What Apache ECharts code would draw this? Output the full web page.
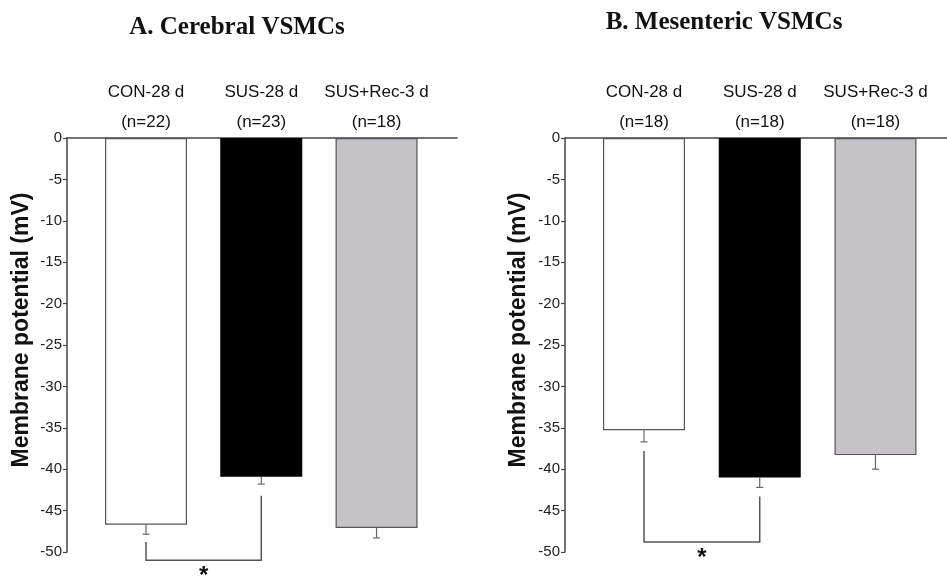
<!DOCTYPE html>
<html>
<head>
<meta charset="utf-8">
<script src="https://cdn.jsdelivr.net/npm/echarts@6/dist/echarts.min.js"></script>
<style>
html,body{margin:0;padding:0;background:#fff;}
#chart{width:947px;height:582px;}
</style>
</head>
<body>
<div id="chart"></div>
<script>
// ---- data ----
var categories = ['CON-28 d', 'SUS-28 d', 'SUS+Rec-3 d'];
var panelTitles = ['A. Cerebral VSMCs', 'B. Mesenteric VSMCs'];
var yAxisTitle = 'Membrane potential (mV)';
var nCerebral = [22, 23, 18];
var nMesenteric = [18, 18, 18];
var cerebralMean = [-46.7, -40.9, -47.1];
var cerebralSEM = [1.15, 0.9, 1.2];
var mesentericMean = [-35.3, -41.0, -38.3];
var mesentericSEM = [1.4, 1.2, 1.7];
// significance bracket: [group1, group1 start, group2, group2 start, bracket level]
var cerebralBracket = [1, -48.8, 2, -43.2, -51.0];
var mesentericBracket = [1, -37.8, 2, -43.3, -48.8];
var yTicks = {min: -50, max: 0, interval: 5};

var barColors = ['#ffffff', '#000000', '#c6c3c8'];
var barBorders = ['#555555', '#000000', '#555555'];

var chart = echarts.init(document.getElementById('chart'), null, {renderer: 'canvas'});

function barData(means) {
  return means.map(function (v, i) {
    return {
      value: [i + 1, v],
      itemStyle: {color: barColors[i], borderColor: barBorders[i], borderWidth: 1.2}
    };
  });
}
function errData(means, sems) {
  return means.map(function (v, i) { return [i + 1, v, sems[i]]; });
}
function renderErr(params, api) {
  var x = api.value(0), m = api.value(1), s = api.value(2);
  var p0 = api.coord([x, m]);
  var p1 = api.coord([x, m - s]);
  var st = {stroke: '#666', lineWidth: 1.2};
  return {
    type: 'group',
    children: [
      {type: 'line', shape: {x1: p0[0], y1: p0[1], x2: p1[0], y2: p1[1]}, style: st},
      {type: 'line', shape: {x1: p1[0] - 3.5, y1: p1[1], x2: p1[0] + 3.5, y2: p1[1]}, style: st}
    ]
  };
}
function renderBracket(params, api) {
  var x1 = api.value(0), y1 = api.value(1), x2 = api.value(2), y2 = api.value(3), lv = api.value(4);
  var a = api.coord([x1, y1]), b = api.coord([x1, lv]), c = api.coord([x2, lv]), d = api.coord([x2, y2]);
  var star = api.coord([(x1 + x2) / 2, lv]);
  return {
    type: 'group',
    children: [
      {type: 'polyline', shape: {points: [a, b, c, d]}, style: {stroke: '#555', lineWidth: 1.5, fill: null}},
      {type: 'text', x: star[0], y: star[1] + 4, style: {text: '*', fill: '#111', font: 'bold 24px "Liberation Sans", Arial, sans-serif', align: 'center', verticalAlign: 'top'}}
    ]
  };
}

var grids = [
  {left: 67, top: 138, width: 390, height: 414},
  {left: 565, top: 138, width: 382, height: 414}
];
var xRanges = [[0.3145, 3.698], [0.3175, 3.618]];
var nLists = [nCerebral, nMesenteric];
var titleFont = {fontFamily: '"Liberation Serif", "Times New Roman", serif', fontWeight: 'bold', fontSize: 25, color: '#111'};

var option = {
  animation: false,
  backgroundColor: '#ffffff',
  title: [
    {text: panelTitles[0], left: 232, top: 10, textAlign: 'center', textStyle: titleFont},
    {text: panelTitles[1], left: 719, top: 5, textAlign: 'center', textStyle: titleFont}
  ],
  grid: grids,
  xAxis: [0, 1].map(function (k) {
    return {
      type: 'value', gridIndex: k, position: 'top',
      min: xRanges[k][0], max: xRanges[k][1],
      axisLine: {show: true, onZero: false, lineStyle: {color: '#444', width: 1.5}},
      axisTick: {show: false},
      splitLine: {show: false},
      axisLabel: {
        customValues: [1, 2, 3],
        margin: 1,
        color: '#111',
        fontFamily: '"Liberation Sans", Arial, sans-serif',
        fontSize: 17,
        lineHeight: 30,
        formatter: function (v) {
          var i = Math.round(v) - 1;
          return categories[i] + '\n(n=' + nLists[k][i] + ')';
        }
      }
    };
  }),
  yAxis: [0, 1].map(function (k) {
    return {
      type: 'value', gridIndex: k,
      min: yTicks.min, max: yTicks.max, interval: yTicks.interval,
      axisLine: {show: true, lineStyle: {color: '#444', width: 1.5}},
      axisTick: {show: true, length: 4, lineStyle: {color: '#444', width: 1.2}},
      splitLine: {show: false},
      axisLabel: {margin: 5, color: '#222', fontFamily: '"Liberation Sans", Arial, sans-serif', fontSize: 15}
    };
  }),
  graphic: [
    {type: 'text', x: 22, y: 330, rotation: Math.PI / 2,
     style: {text: yAxisTitle, fill: '#111', font: 'bold 23px "Liberation Sans", Arial, sans-serif', align: 'center', verticalAlign: 'middle'}},
    {type: 'text', x: 519, y: 330, rotation: Math.PI / 2,
     style: {text: yAxisTitle, fill: '#111', font: 'bold 23px "Liberation Sans", Arial, sans-serif', align: 'center', verticalAlign: 'middle'}}
  ],
  series: [
    {type: 'bar', xAxisIndex: 0, yAxisIndex: 0, barWidth: 82, data: barData(cerebralMean)},
    {type: 'bar', xAxisIndex: 1, yAxisIndex: 1, barWidth: 82, data: barData(mesentericMean)},
    {type: 'custom', xAxisIndex: 0, yAxisIndex: 0, renderItem: renderErr, data: errData(cerebralMean, cerebralSEM), clip: false, z: 3},
    {type: 'custom', xAxisIndex: 1, yAxisIndex: 1, renderItem: renderErr, data: errData(mesentericMean, mesentericSEM), clip: false, z: 3},
    {type: 'custom', xAxisIndex: 0, yAxisIndex: 0, renderItem: renderBracket, data: [cerebralBracket], clip: false, z: 3},
    {type: 'custom', xAxisIndex: 1, yAxisIndex: 1, renderItem: renderBracket, data: [mesentericBracket], clip: false, z: 3}
  ]
};
chart.setOption(option);
</script>
</body>
</html>
